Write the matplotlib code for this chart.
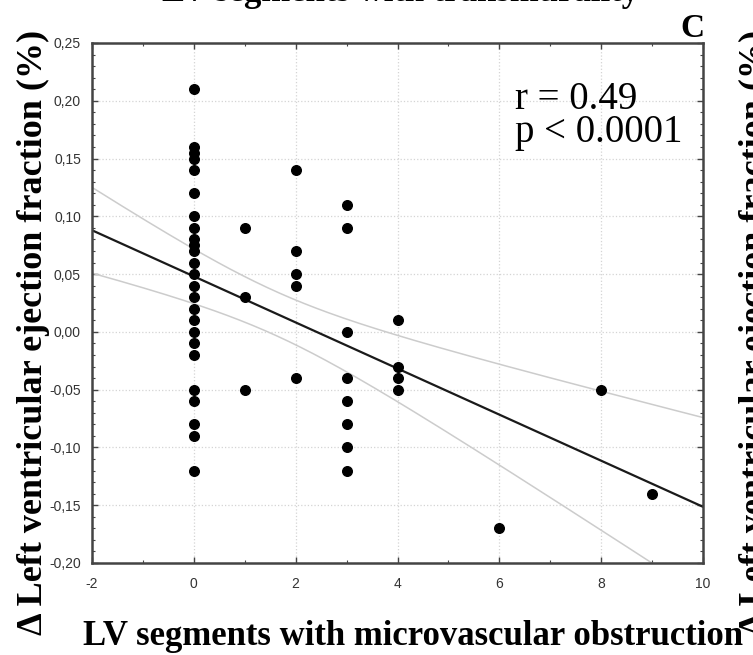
import matplotlib.pyplot as plt
import numpy as np
from matplotlib.ticker import MultipleLocator, FuncFormatter

# LV segments with microvascular obstruction vs change in LVEF
seg_0 = [0.21, 0.16, 0.155, 0.15, 0.14, 0.12, 0.10, 0.09, 0.08, 0.075, 0.07, 0.06,
         0.05, 0.04, 0.03, 0.02, 0.01, 0.00, -0.01, -0.02, -0.05, -0.06, -0.08,
         -0.09, -0.12]
seg_1 = [0.09, 0.03, -0.05]
seg_2 = [0.14, 0.07, 0.05, 0.04, -0.04]
seg_3 = [0.11, 0.09, 0.00, -0.04, -0.06, -0.08, -0.10, -0.12]
seg_4 = [0.01, -0.03, -0.04, -0.05]
seg_6 = [-0.17]
seg_8 = [-0.05]
seg_9 = [-0.14]

groups = {0: seg_0, 1: seg_1, 2: seg_2, 3: seg_3, 4: seg_4, 6: seg_6, 8: seg_8, 9: seg_9}
x = np.concatenate([[k] * len(v) for k, v in groups.items()]).astype(float)
y = np.concatenate([v for v in groups.values()])

# least squares fit + 90% confidence band of the mean
n = len(x)
slope, icpt = np.polyfit(x, y, 1)
resid = y - (slope * x + icpt)
s = np.sqrt(np.sum(resid ** 2) / (n - 2))
sxx = np.sum((x - x.mean()) ** 2)
t90 = 1.679
xs = np.linspace(-2, 10, 200)
fit = slope * xs + icpt
half = t90 * s * np.sqrt(1 / n + (xs - x.mean()) ** 2 / sxx)

plt.rcParams['font.family'] = ['Liberation Serif', 'DejaVu Serif']

fig = plt.figure(figsize=(7.53, 6.55), dpi=100)
ax = fig.add_axes([0.1222, 0.1405, 0.8114, 0.7939])

ax.grid(True, which='major', color='#d4d4d4', linestyle=':', linewidth=0.9)
ax.set_axisbelow(True)
ax.plot(xs, fit + half, color='#cccccc', lw=1.1)
ax.plot(xs, fit - half, color='#cccccc', lw=1.1)
ax.plot(xs, fit, color='#1a1a1a', lw=1.6)
ax.scatter(x, y, s=48, color='black', marker='o', zorder=3)

ax.set_xlim(-2, 10)
ax.set_ylim(-0.20, 0.25)
ax.xaxis.set_major_locator(MultipleLocator(2))
ax.xaxis.set_minor_locator(MultipleLocator(1))
ax.yaxis.set_major_locator(MultipleLocator(0.05))
ax.yaxis.set_minor_locator(MultipleLocator(0.01))
ax.yaxis.set_major_formatter(FuncFormatter(lambda v, p: f"{v:.2f}".replace('.', ',').replace('-0,00', '0,00')))
ax.xaxis.set_major_formatter(FuncFormatter(lambda v, p: f"{v:.0f}"))
ax.tick_params(which='both', direction='in', top=True, right=True, colors='#444444',
               labelcolor='#333333', labelsize=10)
ax.tick_params(which='major', length=4, width=1)
ax.tick_params(which='minor', length=2, width=0.8)
ax.tick_params(axis='x', pad=10)
ax.tick_params(axis='y', pad=8)
for lbl in ax.get_xticklabels() + ax.get_yticklabels():
    lbl.set_family('Liberation Sans')
for sp in ax.spines.values():
    sp.set_color('#444444')
    sp.set_linewidth(1.8)

ax.text(0.692, 0.873, "r = 0.49", transform=ax.transAxes, fontsize=28,
        va='baseline', ha='left')
ax.text(0.692, 0.8096, "p < 0.0001", transform=ax.transAxes, fontsize=28,
        va='baseline', ha='left')

fig.text(0.549, 0.016, "LV segments with microvascular obstruction", ha='center',
         va='baseline', fontsize=25, fontweight='bold')
fig.text(0.044, 0.493, "\u0394 Left ventricular ejection fraction (%)", rotation=90,
         ha='center', va='center', fontsize=26, fontweight='bold')
fig.text(0.936, 0.9435, "C", ha='right', va='baseline', fontsize=24, fontweight='bold')
fig.text(0.532, 0.998, "LV segments with transmurality", ha='center', va='baseline',
         fontsize=25, fontweight='bold')
fig.text(0.981, 0.493, "\u0394 Left ventricular ejection fraction (%)", rotation=90,
         ha='left', va='center', fontsize=26, fontweight='bold')

fig.savefig("out.png", dpi=100)
